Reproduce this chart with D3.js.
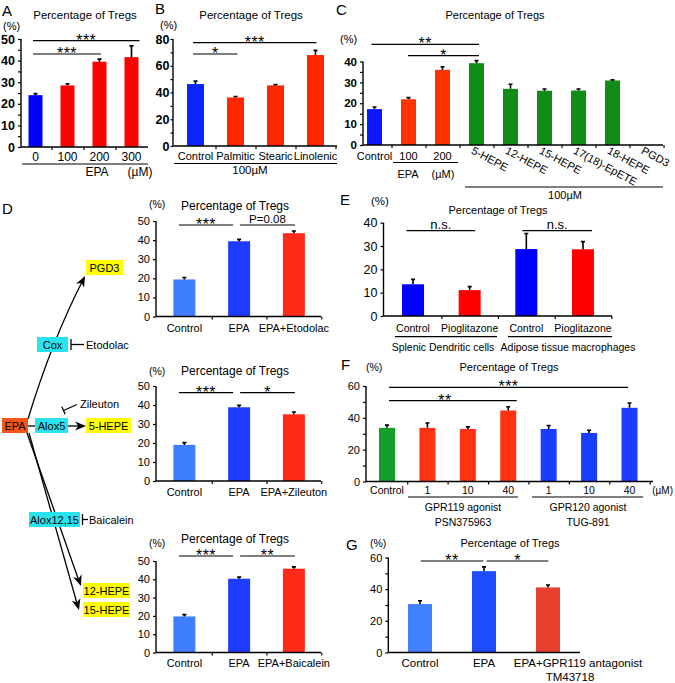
<!DOCTYPE html>
<html><head><meta charset="utf-8">
<script src="https://cdn.jsdelivr.net/npm/d3@7"></script>
<style>
body{margin:0;background:#fff}
svg{display:block}
text{font-family:"Liberation Sans",Arial,Helvetica,sans-serif;fill:#000}
</style>
</head><body>
<svg id="chart" width="675" height="683"></svg>
<script>
// ---------------- DATA ----------------
const aCats = ["0","100","200","300"];
const aVals = [24, 28.5, 39.5, 41.6];
const aErr  = [0.7, 0.8, 1.2, 5.2];

const bCats = ["Control","Palmitic","Stearic","Linolenic"];
const bVals = [46.3, 36.3, 45.3, 68];
const bErr  = [2.2, 0.7, 0.6, 3.5];

const cCats = ["Control","100","200","5-HEPE","12-HEPE","15-HEPE","17(18)-EpETE","18-HEPE","PGD3"];
const cVals = [17.2, 21.9, 36, 39.2, 26.9, 26, 26.1, 30.9, 0];
const cErr  = [1, 0.8, 1.5, 1.2, 2.2, 0.8, 0.7, 0.3, 0];

const d1Cats = ["Control","EPA","EPA+Etodolac"];
const d1Vals = [19.4, 39.4, 43.6];
const d1Err  = [1, 1, 1.2];

const d2Cats = ["Control","EPA","EPA+Zileuton"];
const d2Vals = [19, 38.8, 35.1];
const d2Err  = [1.2, 1, 1.2];

const d3Cats = ["Control","EPA","EPA+Baicalein"];
const d3Vals = [19.7, 40.3, 45.8];
const d3Err  = [1, 0.9, 1];

const eCats = ["Control","Pioglitazone","Control","Pioglitazone"];
const eGroups = ["Splenic Dendritic cells","Adipose tissue macrophages"];
const eVals = [13.6, 11.1, 28.7, 28.6];
const eErr  = [2.1, 1.5, 6.7, 3.3];

const fCats = ["Control","1","10","40","1","10","40"];
const fGroups = [["GPR119 agonist","PSN375963"],["GPR120 agonist","TUG-891"]];
const fVals = [33.7, 33.7, 33, 44.6, 33, 30.5, 46.3];
const fErr  = [1.7, 3.1, 1.3, 2.4, 2.2, 1.7, 3];

const gCats = ["Control","EPA","EPA+GPR119 antagonist"];
const gVals = [30.6, 51.4, 41.1];
const gErr  = [2.1, 2.7, 1.5];

const title = "Percentage of Tregs";

// ---------------- DRAWING ----------------
const FONT = '"Liberation Sans", Arial, Helvetica, sans-serif';
const svg = d3.select("#chart");

function txt(g, x, y, s, fs, anchor, extra) {
  const t = g.append("text").attr("x", x).attr("y", y).text(s)
    .attr("font-size", fs).attr("text-anchor", anchor || "start");
  if (extra) extra(t);
  return t;
}
function hline(g, x1, x2, y, w) {
  g.append("line").attr("x1", x1).attr("x2", x2).attr("y1", y).attr("y2", y)
    .attr("stroke", "#000").attr("stroke-width", w || 1.2);
}

function panel(p) {
  const g = svg.append("g");
  const n = p.vals.length;
  const x = d3.scaleBand().domain(d3.range(n)).range(p.xr);
  const cx = i => x(i) + x.bandwidth() / 2;
  const y = d3.scaleLinear().domain([0, p.ymax]).range([p.y0, p.y1]);

  // bars
  g.selectAll("rect.bar").data(p.vals).join("rect").attr("class", "bar")
    .attr("x", (d, i) => cx(i) - p.bw / 2).attr("width", p.bw)
    .attr("y", d => y(d)).attr("height", d => y(0) - y(d))
    .attr("fill", (d, i) => p.color(i));
  // error bars
  g.selectAll("path.err").data(p.vals).join("path").attr("class", "err")
    .attr("d", (d, i) => p.errs[i] > 0 ?
      `M${cx(i)},${y(d)}V${y(d + p.errs[i])}M${cx(i) - 2},${y(d + p.errs[i])}H${cx(i) + 2}` : "")
    .attr("stroke", "#000").attr("stroke-width", 1.6).attr("fill", "none");

  // y axis
  const ya = g.append("g").attr("transform", `translate(${p.ax},0)`)
    .call(d3.axisLeft(y)
      .tickValues(d3.range(0, p.ymax + 1e-6, p.tstep))
      .tickSize(p.tsize || 3).tickSizeOuter(0).tickPadding(p.tpad || 3)
      .tickFormat(d => (Math.abs(d / p.lstep - Math.round(d / p.lstep)) < 1e-6) ? d3.format("d")(d) : ""));
  ya.attr("font-family", FONT).attr("font-size", p.yfs).attr("font-weight", p.yfw || "normal");
  ya.selectAll("line").attr("stroke", "#000").attr("stroke-width", 1.2);
  ya.select(".domain").attr("stroke", "#000").attr("stroke-width", 1.4)
    .attr("d", `M0,${p.y0}V${p.y1}`);
  ya.selectAll("text").attr("fill", "#000");

  // x axis
  hline(g, p.ax, p.axEnd, p.y0, 1.4);
  if (p.xticks) {
    const xb = d3.scaleLinear().domain([0, n]).range(p.xr);
    const xa = g.append("g").attr("transform", `translate(0,${p.y0})`)
      .call(d3.axisBottom(xb).tickValues(p.xticks).tickSize(p.xtsize || 3).tickFormat(""));
    xa.select(".domain").remove();
    xa.selectAll("line").attr("stroke", "#000").attr("stroke-width", 1.2);
  }

  // category labels
  if (p.catY !== undefined) {
    p.cats.forEach((c, i) => {
      if (p.rotFrom !== undefined && i >= p.rotFrom) return;
      txt(g, cx(i) + (p.catDx ? p.catDx[i] || 0 : 0), p.catY, c, p.cfs, "middle");
    });
  }
  if (p.rotFrom !== undefined) {
    for (let i = p.rotFrom; i < n; i++) {
      const x0 = cx(i) - 6, y0 = p.rotY;
      txt(g, x0, y0, p.cats[i], p.cfs, "start", t => t.attr("transform", `rotate(${p.rotA},${x0},${y0})`));
    }
  }

  // significance
  (p.sig || []).forEach(s => {
    const x1 = cx(s[0]) + s[3], x2 = cx(s[1]) + s[4];
    hline(g, x1, x2, s[2], 1.2);
    const isStar = /^\*+$/.test(s[5]);
    const lx = s[6] !== undefined ? s[6] : (x1 + x2) / 2;
    txt(g, lx, isStar ? s[2] + 5 : s[2] - 2, s[5], isStar ? (p.sfs || 16) : (p.nfs || 11.5), "middle",
      t => { if (isStar) t.attr("letter-spacing", 0.5); });
  });

  // title
  txt(g, p.tx, p.ty, title, p.tfs || 11.5, "middle");
  txt(g, p.px, p.py, "(%)", p.pfs || 11, "start");
  if (p.letter) txt(g, p.letter[1], p.letter[2], p.letter[0], 15, "start");
  return { g, cx, x, y };
}

// ---- Panel A ----
const A = panel({
  cats: aCats, vals: aVals, errs: aErr,
  color: i => i === 0 ? "#0000ff" : "#ff0000",
  xr: [19.5, 147.5], bw: 14, ax: 21, axEnd: 148, y0: 147, y1: 39, ymax: 50,
  tstep: 5, lstep: 10, yfs: 12.5, yfw: "bold", tsize: 3,
  xticks: [1, 2, 3], xtsize: 3,
  catY: 161, cfs: 12,
  sig: [[0, 3, 40.7, -2.5, 8, "***"], [0, 2, 54, -2.5, 1.5, "***"]],
  tx: 85, ty: 19, tfs: 11.5, px: 3, py: 30, pfs: 11,
  letter: ["A", 2, 16]
});
hline(A.g, 22, 148, 164, 1.2);
txt(A.g, 97, 176, "EPA", 12, "middle");
txt(A.g, 140, 176, "(\u00b5M)", 12, "middle");

// ---- Panel B ----
const B = panel({
  cats: bCats, vals: bVals, errs: bErr,
  color: i => i === 0 ? "#0b24fb" : "#ff2600",
  xr: [175.5, 335.5], bw: 17, ax: 173, axEnd: 337, y0: 146, y1: 39, ymax: 80,
  tstep: 10, lstep: 20, yfs: 12.5, yfw: "bold", tsize: 2.5, tpad: 1,
  xticks: [1, 2, 3, 4], xtsize: 3,
  catY: 160, cfs: 11,
  sig: [[0, 3, 42.7, -2.5, 1, "***"], [0, 1, 54, -2.5, 2, "*"]],
  tx: 251, ty: 19, tfs: 11.5, px: 160, py: 29, pfs: 11,
  letter: ["B", 155, 14]
});
hline(B.g, 174, 337, 163.5, 1.2);
txt(B.g, 250, 174, "100\u00b5M", 11.5, "middle");

// ---- Panel C ----
const C = panel({
  cats: cCats, vals: cVals, errs: cErr,
  color: i => i === 0 ? "#0d1aff" : (i < 3 ? "#ff3300" : "#118c16"),
  xr: [357.5, 663.5], bw: 15, ax: 363, axEnd: 663, y0: 145, y1: 61.5, ymax: 40,
  tstep: 5, lstep: 10, yfs: 11.5, yfw: "bold", tsize: 3,
  xticks: [1, 2, 3, 4, 5, 6, 7, 8, 9], xtsize: 3,
  catY: 160, cfs: 11, rotFrom: 3, rotY: 153, rotA: 28,
  sig: [[0, 3, 44.3, -3, 2.5, "**"], [1, 3, 55.7, -0.5, 2.5, "*"]],
  tx: 495, ty: 19, tfs: 11, px: 340, py: 43, pfs: 11,
  letter: ["C", 336, 15]
});
hline(C.g, 393, 458, 162.5, 1.2);
txt(C.g, 408, 178, "EPA", 11, "middle");
txt(C.g, 443, 178, "(\u00b5M)", 11, "middle");
hline(C.g, 465, 663, 187, 1.2);
txt(C.g, 565, 199, "100\u00b5M", 11, "middle");

// ---- Panel D charts ----
const dColor = i => ["#3f7fff", "#1e3cff", "#ff2a1a"][i];
const dBase = {
  color: dColor, xr: [157, 321.25], bw: 22, ax: 156, axEnd: 321, ymax: 50,
  tstep: 10, lstep: 10, yfs: 11, tsize: 3, xticks: [1, 2, 3], xtsize: 3, cfs: 11,
  tx: 235, tfs: 12, px: 149, pfs: 10.5
};
panel(Object.assign({}, dBase, {
  cats: d1Cats, vals: d1Vals, errs: d1Err, y0: 316.5, y1: 221, catY: 332,
  sig: [[0, 1, 225, -5.5, -6, "***"], [1, 2, 225, 1, 1, "P=0.08"]],
  ty: 209.5, py: 208
}));
panel(Object.assign({}, dBase, {
  cats: d2Cats, vals: d2Vals, errs: d2Err, y0: 481, y1: 386, catY: 496,
  sig: [[0, 1, 392.7, -5.5, -6, "***"], [1, 2, 392.7, 1, 1, "*"]],
  ty: 375, py: 375
}));
panel(Object.assign({}, dBase, {
  cats: d3Cats, vals: d3Vals, errs: d3Err, y0: 652.5, y1: 561, catY: 667,
  sig: [[0, 1, 556, -5.5, -6, "***"], [1, 2, 556, 1, 1, "**"]],
  ty: 543, py: 547
}));

// ---- Pathway diagram (panel D left) ----
const pw = svg.append("g");
txt(pw, 2, 214, "D", 15, "start");
function box(x, y, w, h, fill, label) {
  pw.append("rect").attr("x", x).attr("y", y).attr("width", w).attr("height", h).attr("fill", fill);
  txt(pw, x + w / 2, y + h / 2 + 4, label, 11, "middle");
}
function arrowHead(x, y, ang) {
  const L = 11, W = 4.5;
  const bx = x - L * Math.cos(ang), by = y - L * Math.sin(ang);
  const nx = -Math.sin(ang), ny = Math.cos(ang);
  const ix = x - L * 0.7 * Math.cos(ang), iy = y - L * 0.7 * Math.sin(ang);
  pw.append("path").attr("d",
    `M${x},${y}L${bx + nx * W},${by + ny * W}L${ix},${iy}L${bx - nx * W},${by - ny * W}Z`)
    .attr("fill", "#000");
}
function seg(d) {
  pw.append("path").attr("d", d).attr("stroke", "#000").attr("stroke-width", 1.3).attr("fill", "none");
}
seg("M28,419 Q52,340 84,278");
arrowHead(85, 276, Math.atan2(276 - 300, 85 - 73));
seg("M28,426 H35");
seg("M68,426 H84");
arrowHead(86, 426, 0);
seg("M27,433 L80,584");
arrowHead(81, 586, Math.atan2(586 - 433, 81 - 27));
seg("M29,433 L78,607");
arrowHead(79, 610, Math.atan2(610 - 433, 79 - 29));
box(86, 260, 37, 15, "#ffff00", "PGD3");
box(37, 337, 31, 15, "#29e3ef", "Cox");
box(2, 418, 26, 15, "#f2561d", "EPA");
box(35, 418, 33, 15, "#29e3ef", "Alox5");
box(86, 418, 45, 15, "#ffff00", "5-HEPE");
box(29, 512, 51, 15, "#29e3ef", "Alox12,15");
box(83, 583, 47, 15, "#ffff00", "12-HEPE");
box(83, 602, 47, 15, "#ffff00", "15-HEPE");
seg("M71,344.5 H84"); seg("M71,339 V350");
txt(pw, 86, 348.5, "Etodolac", 11, "start");
seg("M77,404.5 L63.5,410.5"); seg("M61.8,406.8 L65.2,414.2");
txt(pw, 80, 408, "Zileuton", 11, "start");
seg("M82.5,519.5 H88"); seg("M82.5,514 V525");
txt(pw, 89, 523.5, "Baicalein", 11, "start");

// ---- Panel E ----
const E = panel({
  cats: eCats, vals: eVals, errs: eErr,
  color: i => i % 2 === 0 ? "#0000ff" : "#ff0000",
  xr: [384.7, 611.3], bw: 22, ax: 383.5, axEnd: 612, y0: 316, y1: 222.7, ymax: 40,
  tstep: 10, lstep: 10, yfs: 12.5, tsize: 3, xticks: [1, 2, 3, 4], xtsize: 3,
  catY: 332, cfs: 10.5,
  sig: [[0, 1, 230.7, -6.5, 5.5, "n.s."], [2, 3, 230.7, -4, 9, "n.s."]],
  nfs: 13,
  tx: 498, ty: 214, tfs: 11, px: 371, py: 205, pfs: 11.5,
  letter: ["E", 340, 205]
});
hline(E.g, 395, 497, 336.7, 1.2);
hline(E.g, 508, 612, 336.7, 1.2);
txt(E.g, 443, 350.5, eGroups[0], 10.5, "middle");
txt(E.g, 568, 350.5, eGroups[1], 10.5, "middle");

// ---- Panel F ----
const F = panel({
  cats: fCats, vals: fVals, errs: fErr,
  color: i => i === 0 ? "#13a02a" : (i <= 3 ? "#ff3311" : "#1a3cff"),
  xr: [366.8, 649.7], bw: 16, ax: 366, axEnd: 653, y0: 481.5, y1: 386, ymax: 60,
  tstep: 10, lstep: 20, yfs: 11, tsize: 3, xticks: [1, 2, 3, 4, 5, 6, 7], xtsize: 3,
  catY: 494, cfs: 10.5,
  sig: [[0, 6, 387.3, 2, -1.5, "***"], [0, 3, 400.7, 2, 8.5, "**", 445]],
  tx: 509, ty: 371, tfs: 11, px: 366, py: 371, pfs: 10.5,
  letter: ["F", 341, 370]
});
txt(F.g, 673, 494, "(\u00b5M)", 10, "end");
hline(F.g, 408, 518, 497, 1.2);
hline(F.g, 532, 643, 497, 1.2);
txt(F.g, 463, 510.5, fGroups[0][0], 10.5, "middle");
txt(F.g, 463, 525.5, fGroups[0][1], 10.5, "middle");
txt(F.g, 588, 510.5, fGroups[1][0], 10.5, "middle");
txt(F.g, 588, 525.5, fGroups[1][1], 10.5, "middle");

// ---- Panel G ----
const G = panel({
  cats: gCats, vals: gVals, errs: gErr,
  color: i => ["#4080ff", "#1f4bff", "#e8402e"][i],
  xr: [388, 580], bw: 24, ax: 388.3, axEnd: 580, y0: 652.5, y1: 557.5, ymax: 60,
  tstep: 10, lstep: 20, yfs: 11, tsize: 3,
  catY: 667, cfs: 11.5, catDx: [0, 0, 30],
  sig: [[0, 1, 561, 0.7, -0.7, "**"], [1, 2, 561, 2.7, 0.3, "*"]],
  tx: 510, ty: 547, tfs: 11, px: 370, py: 547, pfs: 10.5,
  letter: ["G", 346, 550]
});
txt(G.g, 570, 680.5, "TM43718", 11.5, "middle");
</script>
</body></html>
